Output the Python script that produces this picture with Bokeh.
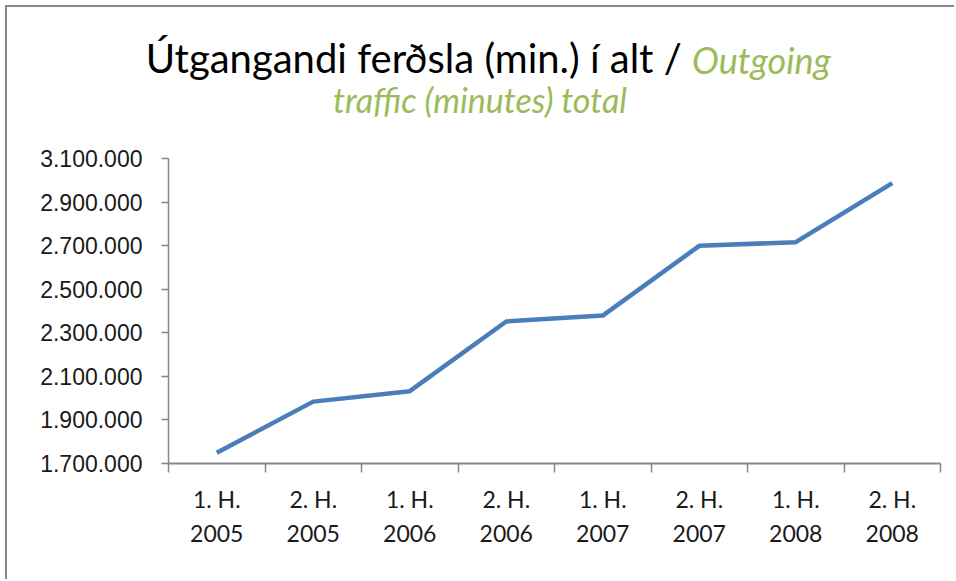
from bokeh.plotting import figure
from bokeh.models import Range1d, FixedTicker, LinearAxis, Div
from bokeh.layouts import column
from bokeh.embed import file_html
from bokeh.resources import INLINE

# ---- data ----
halves = ["1. H.", "2. H.", "1. H.", "2. H.", "1. H.", "2. H.", "1. H.", "2. H."]
years = ["2005", "2005", "2006", "2006", "2007", "2007", "2008", "2008"]
minutes = [1749000, 1984000, 2032000, 2352000, 2379000, 2699000, 2716000, 2987000]
y_ticks = [1700000, 1900000, 2100000, 2300000, 2500000, 2700000, 2900000, 3100000]
y_tick_labels = ["1.700.000", "1.900.000", "2.100.000", "2.300.000",
                 "2.500.000", "2.700.000", "2.900.000", "3.100.000"]
title_black = "Útgangandi ferðsla (min.) í alt / "
title_green_1 = "Outgoing"
title_green_2 = "traffic (minutes) total"

GRAY = "#878787"
GREEN = "#9BBB59"
BLUE = "#4A7EBB"

n = len(minutes)
x_pos = [i + 0.5 for i in range(n)]
bounds = list(range(n + 1))

W, H = 947, 572
TH = 125  # title block height
FL, FT, FR, FB = 161, 151 - TH, 14, 116

# ---- title block (HTML text) ----
title_html = (
    f'<div style="position:relative;width:{W}px;height:{TH}px;font-family:Lato;">'
    f'<div style="position:absolute;left:0;top:31px;width:685px;text-align:right;'
    f'white-space:pre;font-size:40px;line-height:40px;color:#000;">{title_black}</div>'
    f'<div style="position:absolute;left:685px;top:35px;text-align:left;white-space:pre;'
    f'font-size:36px;line-height:36px;font-style:italic;color:{GREEN};">{title_green_1}</div>'
    f'<div style="position:absolute;left:0;top:76px;width:946px;text-align:center;'
    f'white-space:pre;font-size:34px;line-height:34px;font-style:italic;color:{GREEN};">'
    f'{title_green_2}</div>'
    f'</div>'
)
title = Div(text=title_html, width=W, height=TH, margin=0)

p = figure(width=W, height=H - TH, output_backend="svg", toolbar_location=None,
           x_range=Range1d(0, n), y_range=Range1d(y_ticks[0], y_ticks[-1]),
           x_axis_type=None, y_axis_type=None,
           min_border_left=FL, min_border_right=FR, min_border_top=FT,
           min_border_bottom=FB, margin=0)
p.outline_line_color = None
p.background_fill_color = "white"
p.border_fill_color = "white"

# y axis
yax = LinearAxis(ticker=FixedTicker(ticks=y_ticks, minor_ticks=[]))
yax.major_label_overrides = {t: l for t, l in zip(y_ticks, y_tick_labels)}
yax.major_tick_out = 7
yax.major_tick_in = 0
yax.minor_tick_out = 0
yax.minor_tick_in = 0
yax.major_tick_line_color = GRAY
yax.major_tick_line_width = 1.5
yax.axis_line_color = GRAY
yax.axis_line_width = 1.5
yax.major_label_standoff = 19
yax.major_label_text_font = "Liberation Sans"
yax.major_label_text_font_size = "23px"
yax.major_label_text_color = "#1a1a1a"
p.add_layout(yax, "left")

# x axis: halves with boundary ticks
xax1 = LinearAxis(ticker=FixedTicker(ticks=x_pos, minor_ticks=bounds))
xax1.major_label_overrides = {x: h for x, h in zip(x_pos, halves)}
xax1.major_tick_out = 0
xax1.major_tick_in = 0
xax1.minor_tick_out = 9
xax1.minor_tick_in = 0
xax1.minor_tick_line_color = GRAY
xax1.minor_tick_line_width = 1.5
xax1.axis_line_color = GRAY
xax1.axis_line_width = 2
xax1.major_label_standoff = 12
xax1.major_label_text_font = "Lato"
xax1.major_label_text_font_size = "23px"
xax1.major_label_text_color = "#1a1a1a"
p.add_layout(xax1, "below")

# x axis: years
xax2 = LinearAxis(ticker=FixedTicker(ticks=x_pos, minor_ticks=[]))
xax2.major_label_overrides = {x: y for x, y in zip(x_pos, years)}
xax2.major_tick_out = 0
xax2.major_tick_in = 0
xax2.minor_tick_out = 0
xax2.minor_tick_in = 0
xax2.axis_line_alpha = 0
xax2.major_label_standoff = 9
xax2.major_label_text_font = "Lato"
xax2.major_label_text_font_size = "23px"
xax2.major_label_text_color = "#1a1a1a"
p.add_layout(xax2, "below")

p.xgrid.visible = False
p.ygrid.ticker = FixedTicker(ticks=y_ticks, minor_ticks=[])
p.ygrid.grid_line_color = GRAY
p.ygrid.grid_line_width = 1.5

p.line(x_pos, minutes, line_color=BLUE, line_width=4.5, line_join="round")

layout = column(title, p, spacing=0)
layout.styles = {"border-top": f"2px solid {GRAY}", "border-left": f"2px solid {GRAY}",
                 "margin-top": "5px", "margin-left": "5px", "background": "white"}

open("out.html", "w").write(file_html(layout, INLINE))
